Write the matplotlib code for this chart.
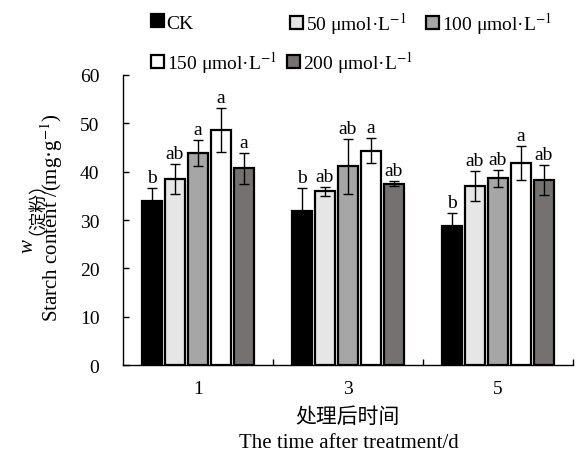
import numpy as np
import matplotlib
matplotlib.use("Agg")
import matplotlib.pyplot as plt
from matplotlib.patches import Patch

plt.rcParams["font.family"] = ["Liberation Serif", "Noto Sans CJK SC"]
plt.rcParams["mathtext.fontset"] = "stix"
plt.rcParams["font.size"] = 14

days = ["1", "3", "5"]
series = ["CK", "50 μmol·L$^{-1}$", "100 μmol·L$^{-1}$", "150 μmol·L$^{-1}$", "200 μmol·L$^{-1}$"]
colors = ["#000000", "#e6e6e6", "#a6a6a6", "#ffffff", "#767171"]

# starch content, rows = series, cols = days
means = [
    [34.0, 31.9, 28.8],
    [38.5, 35.9, 37.1],
    [43.9, 41.1, 38.6],
    [48.6, 44.3, 41.8],
    [40.7, 37.5, 38.3],
]
errors = [
    [2.6, 4.7, 2.7],
    [3.1, 1.0, 3.1],
    [2.7, 5.7, 1.8],
    [4.5, 2.6, 3.5],
    [3.2, 0.5, 3.1],
]
letters = [
    ["b", "b", "b"],
    ["ab", "ab", "ab"],
    ["a", "ab", "ab"],
    ["a", "a", "a"],
    ["a", "ab", "ab"],
]

fig = plt.figure(figsize=(5.79, 4.6), dpi=100)
ax = fig.add_axes([0.2124, 0.2043, 0.7772, 0.6305])

x = np.arange(len(days))
step = 0.153
width = 0.133
handles = []
for i, name in enumerate(series):
    pos = x + (i - 2) * step
    ax.bar(pos, means[i], width, color=colors[i], edgecolor="black", linewidth=1.6, zorder=2)
    ax.errorbar(pos, means[i], yerr=errors[i], fmt="none", ecolor="black",
                elinewidth=1, capsize=3.6, capthick=1, zorder=3)
    for j in range(len(days)):
        ax.annotate(letters[i][j], (pos[j], means[i][j] + errors[i][j]),
                    xytext=(0, 1.5), textcoords="offset points",
                    ha="center", va="bottom", fontsize=14)
    handles.append(Patch(facecolor=colors[i], edgecolor="black", linewidth=1.6, label=name))

ax.set_xlim(-0.5, 2.5)
ax.set_ylim(0, 60)
ax.set_yticks(range(0, 61, 10))
ax.set_xticks(x)
ax.set_xticklabels(days)
ax.set_xticks([0.5, 1.5, 2.5], minor=True)
ax.tick_params(axis="x", which="major", length=0, pad=11)
ax.tick_params(axis="x", which="minor", direction="in", length=4, width=1)
ax.tick_params(axis="y", direction="in", length=4, width=1, pad=17)
for s in ["top", "right"]:
    ax.spines[s].set_visible(False)
for s in ["left", "bottom"]:
    ax.spines[s].set_linewidth(1)

# y axis title, two rotated lines
fig.text(28 / 579, 1 - 246 / 460, "w", style="italic", fontsize=15, rotation=90,
         ha="center", va="center")
fig.text(28 / 579, 1 - 199 / 460, "（淀粉）", family="Noto Sans CJK SC", fontsize=13,
         rotation=90, ha="center", va="center")
fig.text(52 / 579, 1 - 218 / 460, "Starch content /(mg·g$^{-1}$)", fontsize=15, rotation=90,
         ha="center", va="center")
# x axis title
fig.text(347 / 579, 1 - 418 / 460, "处理后时间", fontsize=15, ha="center", va="center")
fig.text(349 / 579, 1 - 444 / 460, "The time after treatment/d", fontsize=15,
         ha="center", va="center")

# legend entries placed one by one (irregular layout)
legend_pos = [(151, 24), (290, 24), (426, 24), (151, 63), (287, 63)]
for h, (px, py) in zip(handles, legend_pos):
    fig.legend(handles=[h], loc="center left", bbox_to_anchor=(px / 579, 1 - py / 460),
               frameon=False, handlelength=0.65, handleheight=0.65,
               handletextpad=0.15, borderpad=0, borderaxespad=0, fontsize=14)

fig.savefig("out.png", dpi=100)
